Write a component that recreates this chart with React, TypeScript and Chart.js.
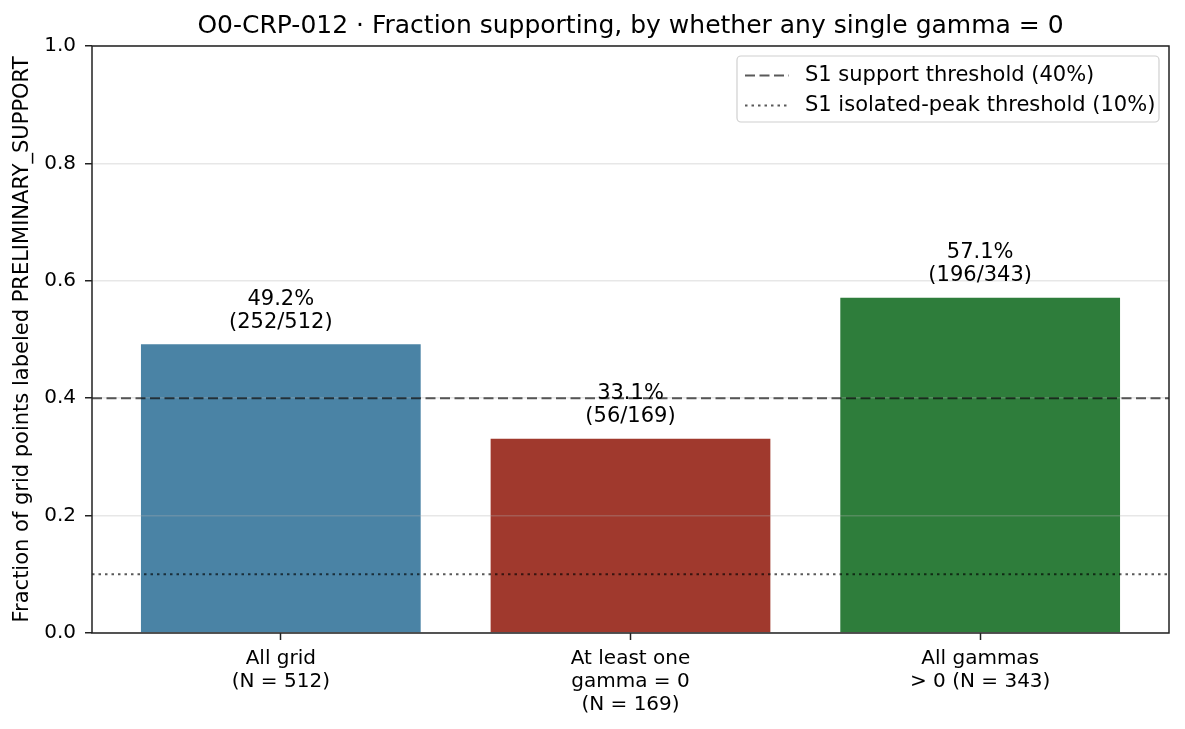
import { useEffect, useRef } from "react";
import { Chart, registerables } from "chart.js";

Chart.register(...registerables);

const TITLE = "O0-CRP-012 · Fraction supporting, by whether any single gamma = 0";
const Y_LABEL = "Fraction of grid points labeled PRELIMINARY_SUPPORT";

const CATEGORIES = [
    ["All grid", "(N = 512)"],
    ["At least one", "gamma = 0", "(N = 169)"],
    ["All gammas", "> 0 (N = 343)"]
];
const FRACTIONS = [0.492, 0.331, 0.571];
const SUPPORTED = [252, 56, 196];
const TOTALS = [512, 169, 343];
const BAR_COLORS = ["#4a83a5", "#a0392d", "#2e7d3b"];

const THRESHOLDS = [0.4, 0.1];
const THRESHOLD_LABELS = ["S1 support threshold (40%)", "S1 isolated-peak threshold (10%)"];
const THRESHOLD_DASHES = [[10, 4.5], [2.5, 4]];

const FONT = "'DejaVu Sans', sans-serif";
const INK = "#222";
const LINE_COLOR = "rgba(0,0,0,0.65)";

const overlayPlugin = {
    id: "overlay",
    afterDraw(chart: Chart) {
        const { ctx, chartArea, scales } = chart;
        const { left, right, top, bottom } = chartArea;
        const y = scales.y;
        ctx.save();

        // threshold lines
        THRESHOLDS.forEach((t, i) => {
            const py = y.getPixelForValue(t);
            ctx.beginPath();
            ctx.setLineDash(THRESHOLD_DASHES[i]);
            ctx.strokeStyle = LINE_COLOR;
            ctx.lineWidth = 2;
            ctx.moveTo(left, py);
            ctx.lineTo(right, py);
            ctx.stroke();
        });
        ctx.setLineDash([]);

        // bar labels
        const meta = chart.getDatasetMeta(0);
        ctx.fillStyle = "#000";
        ctx.font = `21px ${FONT}`;
        ctx.textAlign = "center";
        ctx.textBaseline = "middle";
        meta.data.forEach((bar: any, i: number) => {
            const pct = (FRACTIONS[i] * 100).toFixed(1) + "%";
            ctx.fillText(`(${SUPPORTED[i]}/${TOTALS[i]})`, bar.x, bar.y - 22);
            ctx.fillText(pct, bar.x, bar.y - 45);
        });

        // frame
        ctx.strokeStyle = INK;
        ctx.lineWidth = 1.5;
        ctx.strokeRect(left, top, right - left, bottom - top);

        // title
        ctx.font = `25px ${FONT}`;
        ctx.fillStyle = "#000";
        ctx.fillText(TITLE, (left + right) / 2, 26);

        // legend
        const lx = 737, ly = 56, lw = 422, lh = 66;
        ctx.beginPath();
        ctx.roundRect(lx, ly, lw, lh, 4);
        ctx.fillStyle = "rgba(255,255,255,0.8)";
        ctx.fill();
        ctx.strokeStyle = "#d0d0d0";
        ctx.lineWidth = 1.2;
        ctx.stroke();
        THRESHOLD_LABELS.forEach((label, i) => {
            const ry = ly + 19.5 + i * 30;
            ctx.beginPath();
            ctx.setLineDash(THRESHOLD_DASHES[i]);
            ctx.strokeStyle = LINE_COLOR;
            ctx.lineWidth = 2;
            ctx.moveTo(745, ry);
            ctx.lineTo(789, ry);
            ctx.stroke();
            ctx.setLineDash([]);
            ctx.fillStyle = "#000";
            ctx.textAlign = "left";
            ctx.font = `21px ${FONT}`;
            ctx.fillText(label, 805, ry);
        });

        ctx.restore();
    }
};

export default function App() {
    const canvasRef = useRef<HTMLCanvasElement>(null);

    useEffect(() => {
        const canvas = canvasRef.current;
        if (!canvas) return;

        const chart = new Chart(canvas, {
            type: "bar",
            data: {
                datasets: [
                    {
                        data: FRACTIONS.map((v, i) => ({ x: i, y: v })),
                        backgroundColor: BAR_COLORS,
                        borderWidth: 0,
                        categoryPercentage: 1,
                        barPercentage: 0.8
                    }
                ]
            },
            options: {
                responsive: false,
                animation: false,
                devicePixelRatio: 1,
                layout: { padding: { top: 46, right: 16, left: 0, bottom: 0 } },
                plugins: {
                    legend: { display: false },
                    title: { display: false },
                    tooltip: { enabled: false }
                },
                scales: {
                    x: {
                        type: "linear",
                        min: -0.54,
                        max: 2.54,
                        offset: false,
                        afterBuildTicks: (scale: any) => {
                            scale.ticks = CATEGORIES.map((_, i) => ({ value: i }));
                        },
                        afterFit: (scale: any) => {
                            scale.height = 96;
                        },
                        border: { display: false },
                        grid: {
                            offset: false,
                            drawOnChartArea: false,
                            drawTicks: true,
                            tickLength: 7,
                            tickColor: INK,
                            tickWidth: 1.5
                        },
                        ticks: {
                            autoSkip: false,
                            maxRotation: 0,
                            padding: 7,
                            color: "#000",
                            font: { family: FONT, size: 20, lineHeight: 1.15 },
                            callback: (v: any) => CATEGORIES[v] ?? ""
                        }
                    },
                    y: {
                        min: 0,
                        max: 1,
                        afterFit: (scale: any) => {
                            scale.width = 92;
                        },
                        border: { display: false },
                        grid: {
                            z: 1,
                            color: "rgba(176,176,176,0.3)",
                            lineWidth: 1.5,
                            tickLength: 7,
                            tickColor: INK,
                            tickWidth: 1.5
                        },
                        ticks: {
                            stepSize: 0.2,
                            padding: 9,
                            color: "#000",
                            font: { family: FONT, size: 20 },
                            callback: (v: any) => Number(v).toFixed(1)
                        },
                        title: {
                            display: true,
                            text: Y_LABEL,
                            color: "#000",
                            font: { family: FONT, size: 21 },
                            padding: { top: 10, bottom: 0 }
                        }
                    }
                }
            },
            plugins: [overlayPlugin]
        });

        return () => chart.destroy();
    }, []);

    return (
        <div style={{ position: "absolute", left: 0, top: 0, width: 1185, height: 729, background: "#fff" }}>
            <canvas ref={canvasRef} width={1185} height={729} />
        </div>
    );
}
